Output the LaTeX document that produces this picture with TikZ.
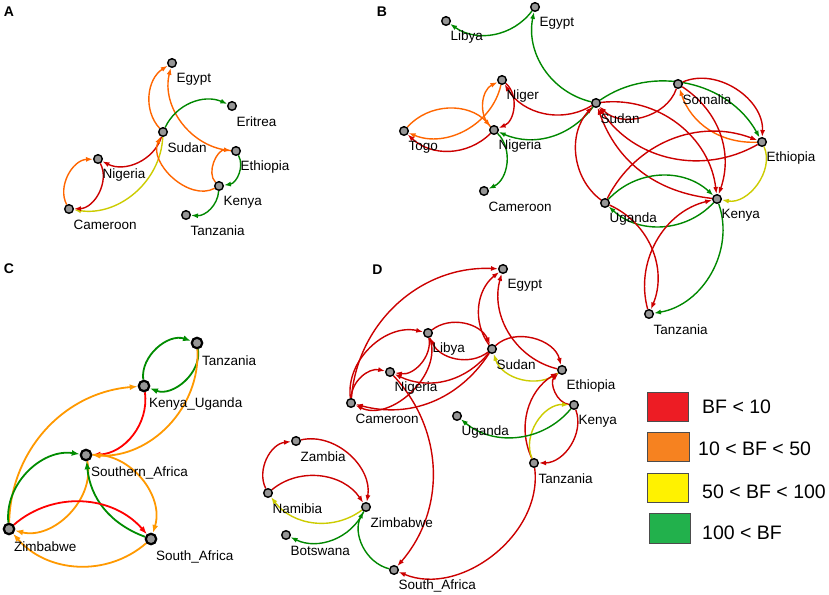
\documentclass[tikz,border=0pt]{standalone}
\usepackage{fontspec}
\setmainfont{Liberation Sans}
\usetikzlibrary{arrows.meta,calc}
\pgfdeclarelayer{bgfill}
\pgfdeclarelayer{edges}
\pgfsetlayers{bgfill,edges,main}
\definecolor{ered}{RGB}{204,0,0}
\definecolor{eorange}{RGB}{255,102,0}
\definecolor{eyellow}{RGB}{204,204,0}
\definecolor{egreen}{RGB}{0,136,0}
\definecolor{cred}{RGB}{255,0,0}
\definecolor{corange}{RGB}{255,153,0}
\definecolor{cgreen}{RGB}{0,140,0}
\definecolor{nodegray}{RGB}{150,150,150}
\definecolor{lgred}{RGB}{237,28,36}
\definecolor{lgorange}{RGB}{246,130,32}
\definecolor{lgyellow}{RGB}{255,242,0}
\definecolor{lggreen}{RGB}{34,177,76}
\tikzset{
  gnode/.style={circle,draw=black,fill=nodegray,line width=1.4pt,minimum size=8.6pt,inner sep=0pt},
  cnode/.style={gnode,line width=2.2pt,minimum size=10.5pt},
  glabel/.style={anchor=west,inner sep=0pt,font=\fontsize{13.5}{14}\selectfont},
  panelletter/.style={inner sep=0pt,font=\bfseries\fontsize{14}{14}\selectfont},
  ebase/.style={line width=1.4pt,-{Latex[length=7pt,width=5pt]}},
  cbase/.style={line width=1.8pt,-{Latex[length=8pt,width=6pt]}},
  eR/.style={ebase,draw=ered},
  eO/.style={ebase,draw=eorange},
  eY/.style={ebase,draw=eyellow},
  eG/.style={ebase,draw=egreen},
  cR/.style={cbase,draw=cred},
  cO/.style={cbase,draw=corange},
  cG/.style={cbase,draw=cgreen},
  lgbox/.style={draw=black!70,line width=0.8pt,inner sep=0pt,anchor=south west},
  lgtext/.style={anchor=west,inner sep=0pt,font=\fontsize{19.5}{20}\selectfont}
}
\newcommand\gn[4]{\node[gnode] (#1) at (#2,#3) {};
  \node[glabel] (#1-l) at ([shift={(4.5,-16)}]#1.center) {#4};}
\newcommand\cn[4]{\node[cnode] (#1) at (#2,#3) {};
  \node[glabel] (#1-l) at ([shift={(5,-18)}]#1.center) {#4};}
\begin{document}
\begin{tikzpicture}[x=1pt,y=1pt]
\begin{pgfonlayer}{bgfill}
\fill[white] (0,0) rectangle (829,594);
\end{pgfonlayer}
\useasboundingbox (0,0) rectangle (829,594);
% panel letters
\node[panelletter] (lA) at (9,582.5) {A};
\node[panelletter] (lB) at (382,582) {B};
\node[panelletter] (lC) at (9,325) {C};
\node[panelletter] (lD) at (377.5,324) {D};
% ---------- Panel A ----------
\gn{aEgy}{172}{531}{Egypt}
\gn{aEri}{232}{488}{Eritrea}
\gn{aSud}{163}{462}{Sudan}
\gn{aNig}{98}{435}{Nigeria}
\gn{aEth}{236}{443}{Ethiopia}
\gn{aKen}{219}{408}{Kenya}
\gn{aCam}{69}{385}{Cameroon}
\gn{aTan}{186}{379}{Tanzania}
% ---------- Panel B ----------
\gn{bLib}{446}{573}{Libya}
\gn{bEgy}{535}{587}{Egypt}
\gn{bNgr}{502}{514}{Niger}
\gn{bTog}{404}{463}{Togo}
\gn{bNga}{494}{464}{Nigeria}
\gn{bCam}{484}{403}{Cameroon}
\gn{bSud}{596}{491}{Sudan}
\gn{bSom}{678}{510}{Somalia}
\gn{bEth}{762}{452}{Ethiopia}
\gn{bKen}{717}{395}{Kenya}
\gn{bUga}{605}{391}{Uganda}
\gn{bTan}{649}{280}{Tanzania}
% ---------- Panel C ----------
\cn{cTan}{197}{251}{Tanzania}
\cn{cKU}{144}{208}{Kenya\_Uganda}
\cn{cSA}{86}{139}{Southern\_Africa}
\cn{cZim}{9}{65}{Zimbabwe}
\cn{cZA}{151}{55}{South\_Africa}
% ---------- Panel D ----------
\gn{dEgy}{503}{325}{Egypt}
\gn{dLib}{428}{261}{Libya}
\gn{dNga}{390}{222}{Nigeria}
\gn{dCam}{351}{191}{Cameroon}
\gn{dSud}{492}{245}{Sudan}
\gn{dEth}{562}{224}{Ethiopia}
\gn{dKen}{574}{189}{Kenya}
\gn{dUga}{457}{178}{Uganda}
\gn{dTan}{534}{131}{Tanzania}
\gn{dZam}{296}{153}{Zambia}
\gn{dNam}{268}{101}{Namibia}
\gn{dZim}{366}{87}{Zimbabwe}
\gn{dBot}{286}{59}{Botswana}
\gn{dZA}{394}{24}{South\_Africa}
% ---------- Legend ----------
\node[lgbox,fill=lgred,minimum width=41pt,minimum height=29pt] (lg1) at (647,172) {};
\node[lgbox,fill=lgorange,minimum width=42pt,minimum height=29pt] (lg2) at (647,132) {};
\node[lgbox,fill=lgyellow,minimum width=41pt,minimum height=29pt] (lg3) at (647,91) {};
\node[lgbox,fill=lggreen,minimum width=41pt,minimum height=30pt] (lg4) at (649,50) {};
\node[lgtext] (lt1) at (702,187) {BF < 10};
\node[lgtext] (lt2) at (698,145) {10 < BF < 50};
\node[lgtext] (lt3) at (702,102) {50 < BF < 100};
\node[lgtext] (lt4) at (702,61) {100 < BF};
\begin{pgfonlayer}{edges}
% A
\draw[eO] (aSud) to[bend left=50] (aEgy);
\draw[eO] (aEth) to[bend left=50] (aEgy);
\draw[eG] (aSud) to[bend left=44] (aEri);
\draw[eR] (aSud) to[bend left=50] (aNig);
\draw[eY] (aSud) to[bend left=48] (aCam);
\draw[eR] (aNig) to[bend left=58] (aCam);
\draw[eO] (aCam) to[bend left=58] (aNig);
\draw[eO] (aKen) to[bend left=72] (aSud);
\draw[eO] (aKen) to[bend left=70] (aEth);
\draw[eG] (aEth) to[bend left=55] (aKen);
\draw[eG] (aKen) to[bend left=45] (aTan);
% B
\draw[eG] (bEgy) to[bend left=44] (bLib);
\draw[eG] (bSud) to[bend left=44] (bEgy);
\draw[eR] (bSud) to[bend left=45] (bNgr);
\draw[eG] (bSud) to[bend left=38] (bNga);
\draw[eR] (bNgr) to[bend left=58] (bNga);
\draw[eO] (bNga) to[bend left=55] (bNgr);
\draw[eO] (bTog) to[bend left=48] (bNga);
\draw[eO] (bNgr) to[bend left=50] (bTog);
\draw[eR] (bNga) to[bend left=44] (bTog);
\draw[eG] (bNga) to[bend left=55] (bCam);
\draw[eG] (bSud) to[bend left=48] (bEth);
\draw[eR] (bSom) to[bend left=58] (bSud);
\draw[eR] (bSom) to[bend left=58] (bEth);
\draw[eO] (bEth) to[bend left=37] (bSom);
\draw[eR] (bSom) to[bend left=38] (bKen);
\draw[eR] (bSud) to[bend left=45] (bKen);
\draw[eR] (bEth) to[bend left=43] (bSud);
\draw[eR] (bKen) to[bend left=32] (bSud);
\draw[eR] (bUga) to[bend left=48] (bSud);
\draw[eR] (bUga) to[bend left=42] (bEth);
\draw[eG] (bUga) to[bend left=45] (bKen);
\draw[eG] (bKen) to[bend left=45] (bUga);
\draw[eY] (bEth) to[bend left=62] (bKen);
\draw[eG] (bKen) to[bend left=50] (bTan);
\draw[eR] (bUga) to[bend left=44] (bTan);
\draw[eR] (bTan) to[bend left=46] (bKen);
% C
\draw[cG] (cKU) to[bend left=58] (cTan);
\draw[cG] (cTan) to[bend left=60] (cKU);
\draw[cR] (cKU) to[bend left=48] (cSA);
\draw[cO] (cTan) to[bend left=48] (cSA);
\draw[cO] (cZim) to[bend left=42] (cKU);
\draw[cG] (cZim) to[bend left=52] (cSA);
\draw[cO] (cSA) to[bend left=58] (cZim);
\draw[cO] (cSA) to[bend left=55] (cZA);
\draw[cG] (cZA) to[bend left=32] (cSA);
\draw[cR] (cZim) to[bend left=45] (cZA);
\draw[cO] (cZA) to[bend left=45] (cZim);
% D
\draw[eR] (dCam) to[bend left=44] (dEgy);
\draw[eR] (dCam) to[bend left=55] (dLib);
\draw[eR] (dCam) to[bend left=50] (dNga);
\draw[eR] (dLib) to[bend left=55] (dNga);
\draw[eR] (dLib) to[bend left=68] (dCam);
\draw[eR] (dSud) to[bend left=36] (dCam);
\draw[eR] (dSud) to[bend left=38] (dNga);
\draw[eR] (dSud) to[bend left=52] (dLib);
\draw[eR] (dLib) to[bend left=52] (dSud);
\draw[eR] (dSud) to[bend left=44] (dEgy);
\draw[eR] (dEth) to[bend left=46] (dEgy);
\draw[eR] (dSud) to[bend left=60] (dEth);
\draw[eY] (dEth) to[bend left=55] (dSud);
\draw[eR] (dKen) to[bend left=65] (dEth);
\draw[eR] (dTan) to[bend left=42] (dEth);
\draw[eY] (dTan) to[bend left=58] (dKen);
\draw[eR] (dKen) to[bend left=55] (dTan);
\draw[eG] (dKen) to[bend left=45] (dUga);
\draw[eR] (dTan) to[bend left=60] (dZA);
\draw[eR] (dNga) to[bend left=42] (dZA);
\draw[eR] (dNam) to[bend left=55] (dZam);
\draw[eR] (dZam) to[bend left=56] (dZim);
\draw[eR] (dNam) to[bend left=48] (dZim);
\draw[eY] (dZim) to[bend left=45] (dNam);
\draw[eG] (dZim) to[bend left=45] (dBot);
\draw[eG] (dZA) to[bend left=52] (dZim);
\end{pgfonlayer}
\end{tikzpicture}
\end{document}
